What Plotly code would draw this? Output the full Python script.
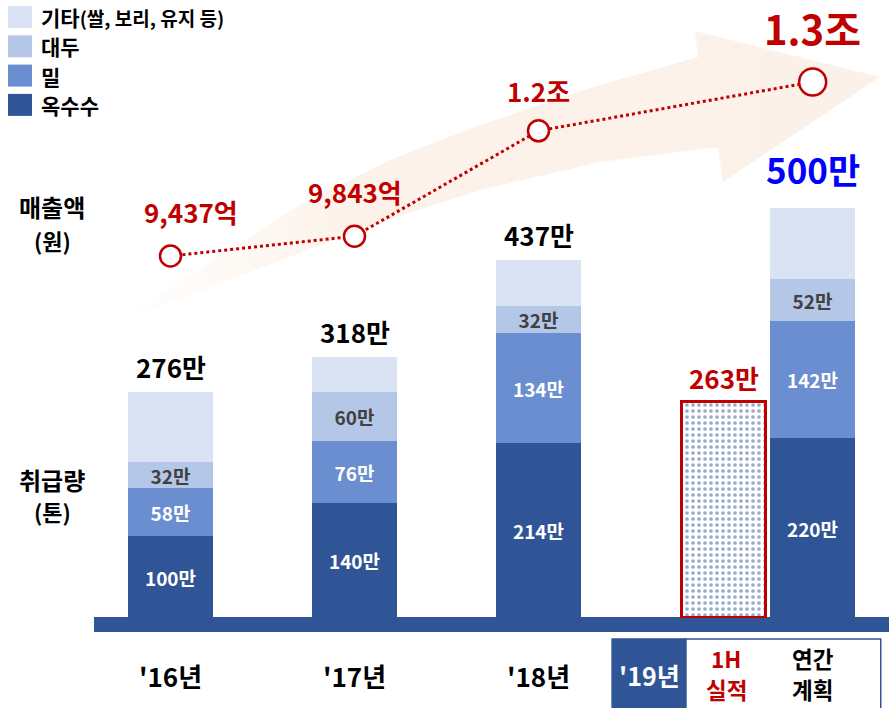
import plotly.graph_objects as go

# ---------------- data ----------------
periods = ["'16년", "'17년", "'18년", "'19년 연간 계획"]
corn = [100, 140, 214, 220]          # 만톤
wheat = [58, 76, 134, 142]
soybean = [32, 60, 32, 52]
others = [86, 42, 57, 86]
totals = [276, 318, 437, 500]
h1_2019_total = 263
revenue = [9437, 9843, 12000, 13000]  # 억원
revenue_labels = ["9,437억", "9,843억", "1.2조", "1.3조"]
series_names = ["옥수수", "밀", "대두", "기타(쌀, 보리, 유지 등)"]
year_labels = ["'16년", "'17년", "'18년"]

# ---------------- layout constants ----------------
W, H = 889, 708
FONT = "Noto Sans CJK KR"
C_CORN, C_WHEAT, C_SOY, C_OTHER = "#2F5597", "#6A8ED0", "#B4C7E7", "#DAE3F3"
RED = "#C00000"

slot_px = 184.0           # px between year slots
slot0_px = 170.5          # px of first slot centre
bar_x = [0, 1, 2, 3.49]   # slot positions of stacked bars
h1_x = 3.01               # slot position of 1H bar
bar_w = 0.462

plot_bottom_px = 618
px_per_unit = 0.82
x_range = [-slot0_px / slot_px, (W - slot0_px) / slot_px]
y_range = [0, plot_bottom_px / px_per_unit]
y2_range = [2027, 14678]
y_dom = [(H - plot_bottom_px) / H, 1.0]


def px2data(px, py):
    x = x_range[0] + px / W * (x_range[1] - x_range[0])
    y = y_range[1] - py / plot_bottom_px * (y_range[1] - y_range[0])
    return x, y


def paper_y(py):
    return 1 - py / H


fig = go.Figure()

# ---- decorative background arrow ----
arrow_px = [(118, 322), (210, 262), (300, 205), (390, 160), (480, 125), (590, 88), (698, 57),
            (695, 31), (880, 77), (723, 182), (718, 147), (600, 162), (480, 190),
            (367, 227), (250, 272), (118, 322)]
ax_, ay_ = zip(*[px2data(*p) for p in arrow_px])
fig.add_trace(go.Scatter(
    x=list(ax_), y=list(ay_), mode="lines", fill="toself",
    line=dict(width=0, color="rgba(0,0,0,0)"),
    fillgradient=dict(type="horizontal",
                      colorscale=[[0, "rgba(252,241,232,0)"], [0.3, "rgba(252,241,232,0.9)"],
                                  [1, "rgb(252,241,232)"]]),
    hoverinfo="skip", showlegend=False))

# ---- stacked bars ----
seg_data = [corn, wheat, soybean, others]
seg_colors = [C_CORN, C_WHEAT, C_SOY, C_OTHER]
seg_text_colors = ["white", "white", "#404040", None]
for name, vals, col, tcol in zip(series_names, seg_data, seg_colors, seg_text_colors):
    kw = {}
    if tcol:
        kw = dict(text=[f"{v}만" for v in vals], textposition="inside",
                  insidetextanchor="middle", constraintext="none",
                  textfont=dict(family=FONT, size=19, color=tcol, weight="bold"))
    fig.add_trace(go.Bar(x=bar_x, y=vals, width=bar_w, name=name,
                         marker=dict(color=col, line=dict(width=0)),
                         showlegend=False, **kw))

# ---- 1H 2019 bar (pattern) ----
fig.add_trace(go.Bar(
    x=[h1_x], y=[h1_2019_total], width=0.457, showlegend=False,
    marker=dict(color="white", line=dict(color=RED, width=3),
                pattern=dict(shape=".", fgcolor=C_CORN, bgcolor="white",
                             size=6, solidity=0.3))))

# ---- revenue line ----
fig.add_trace(go.Scatter(
    x=bar_x, y=revenue, yaxis="y2", mode="lines", showlegend=False,
    line=dict(color=RED, width=3, dash="dot")))
fig.add_trace(go.Scatter(
    x=bar_x, y=revenue, yaxis="y2", mode="markers", showlegend=False,
    marker=dict(size=[21, 21, 21, 27], color="white", opacity=1,
                line=dict(color=RED, width=2.5))))

annotations = []
# totals above bars
for i, (x, t) in enumerate(zip(bar_x, totals)):
    is_plan = i == 3
    annotations.append(dict(
        x=x, y=t, xref="x", yref="y", text=f"{t}만", showarrow=False,
        xanchor="center", yanchor="bottom", yshift=12 if is_plan else 5,
        font=dict(family=FONT, size=35 if is_plan else 26,
                  color="#0000FF" if is_plan else "black", weight="bold")))
annotations.append(dict(
    x=h1_x, y=h1_2019_total, xref="x", yref="y", text=f"{h1_2019_total}만",
    showarrow=False, xanchor="center", yanchor="bottom", yshift=4,
    font=dict(family=FONT, size=26, color=RED, weight="bold")))

# revenue labels
rev_shift = [24, 24, 20, 23]
for i, (x, v, lab) in enumerate(zip(bar_x, revenue, revenue_labels)):
    big = i == 3
    annotations.append(dict(
        x=x, y=v, xref="x", yref="y2", text=lab, showarrow=False,
        xanchor="center", yanchor="bottom", yshift=rev_shift[i],
        xshift=20 if i == 0 else 0,
        font=dict(family=FONT, size=40 if big else 26, color=RED, weight="bold")))

# year labels under the band
for x, lab in zip(bar_x[:3], year_labels):
    annotations.append(dict(
        x=x, y=paper_y(675), xref="x", yref="paper", text=lab, showarrow=False,
        xanchor="center", yanchor="middle",
        font=dict(family=FONT, size=26, color="black", weight="bold")))

# 2019 box labels
annotations.append(dict(x=(h1_x - 0.6 + h1_x - 0.21) / 2, y=paper_y(675), xref="x", yref="paper",
                        text="'19년", showarrow=False, xanchor="center", yanchor="middle",
                        font=dict(family=FONT, size=25, color="white", weight="bold")))
for x, (l1, l2), col in [(h1_x + 0.01, ("1H", "실적"), RED), (bar_x[3], ("연간", "계획"), "black")]:
    for txt, py in [(l1, 658), (l2, 689)]:
        annotations.append(dict(x=x, y=paper_y(py), xref="x", yref="paper",
                                text=txt, showarrow=False, xanchor="center", yanchor="middle",
                                font=dict(family=FONT, size=22.5, color=col, weight="bold")))

# side titles
for txt, py, sz in [("매출액", 206, 24), ("(원)", 240, 22), ("취급량", 479, 24), ("(톤)", 511, 22)]:
    annotations.append(dict(x=52 / W, y=paper_y(py), xref="paper", yref="paper", text=txt,
                            showarrow=False, xanchor="center", yanchor="middle",
                            font=dict(family=FONT, size=sz, color="black", weight="bold")))

shapes = []
# custom legend
legend_order = [3, 2, 1, 0]
for row, idx in enumerate(legend_order):
    cy = 17 + row * 29.3
    shapes.append(dict(type="rect", xref="paper", yref="paper",
                       x0=8 / W, x1=32 / W, y0=paper_y(cy + 11), y1=paper_y(cy - 11),
                       fillcolor=seg_colors[idx], line=dict(width=0)))
    name = series_names[idx]
    if "(" in name:
        head, tail = name.split("(", 1)
        name = f"{head}<span style='font-size:19px'>({tail}</span>"
    annotations.append(dict(x=39 / W, y=paper_y(cy), xref="paper", yref="paper", text=name,
                            showarrow=False, xanchor="left", yanchor="middle",
                            font=dict(family=FONT, size=21, color="black", weight="bold")))

# baseline band
shapes.append(dict(type="rect", xref="paper", yref="paper", x0=94 / W, x1=1,
                   y0=paper_y(632), y1=paper_y(617), fillcolor=C_CORN, line=dict(width=0),
                   layer="below"))
# 2019 box
shapes.append(dict(type="rect", xref="x", yref="paper", x0=h1_x - 0.21, x1=bar_x[3] + 0.37,
                   y0=-0.01, y1=paper_y(639), fillcolor="white",
                   line=dict(color=C_CORN, width=1.5)))
shapes.append(dict(type="rect", xref="x", yref="paper", x0=h1_x - 0.61, x1=h1_x - 0.21,
                   y0=-0.01, y1=paper_y(639), fillcolor=C_CORN, line=dict(color=C_CORN, width=1.5)))

fig.update_layout(
    width=W, height=H, margin=dict(l=0, r=0, t=0, b=0),
    paper_bgcolor="white", plot_bgcolor="rgba(0,0,0,0)",
    barmode="stack", bargap=0, showlegend=False,
    xaxis=dict(range=x_range, visible=False, fixedrange=True),
    yaxis=dict(range=y_range, domain=y_dom, visible=False, fixedrange=True),
    yaxis2=dict(range=y2_range, overlaying="y", visible=False, fixedrange=True),
    annotations=annotations, shapes=shapes,
    font=dict(family=FONT),
)

fig.write_html("out.html", config={"displayModeBar": False},
               post_script="document.body.style.margin='0';document.body.style.overflow='hidden';")
